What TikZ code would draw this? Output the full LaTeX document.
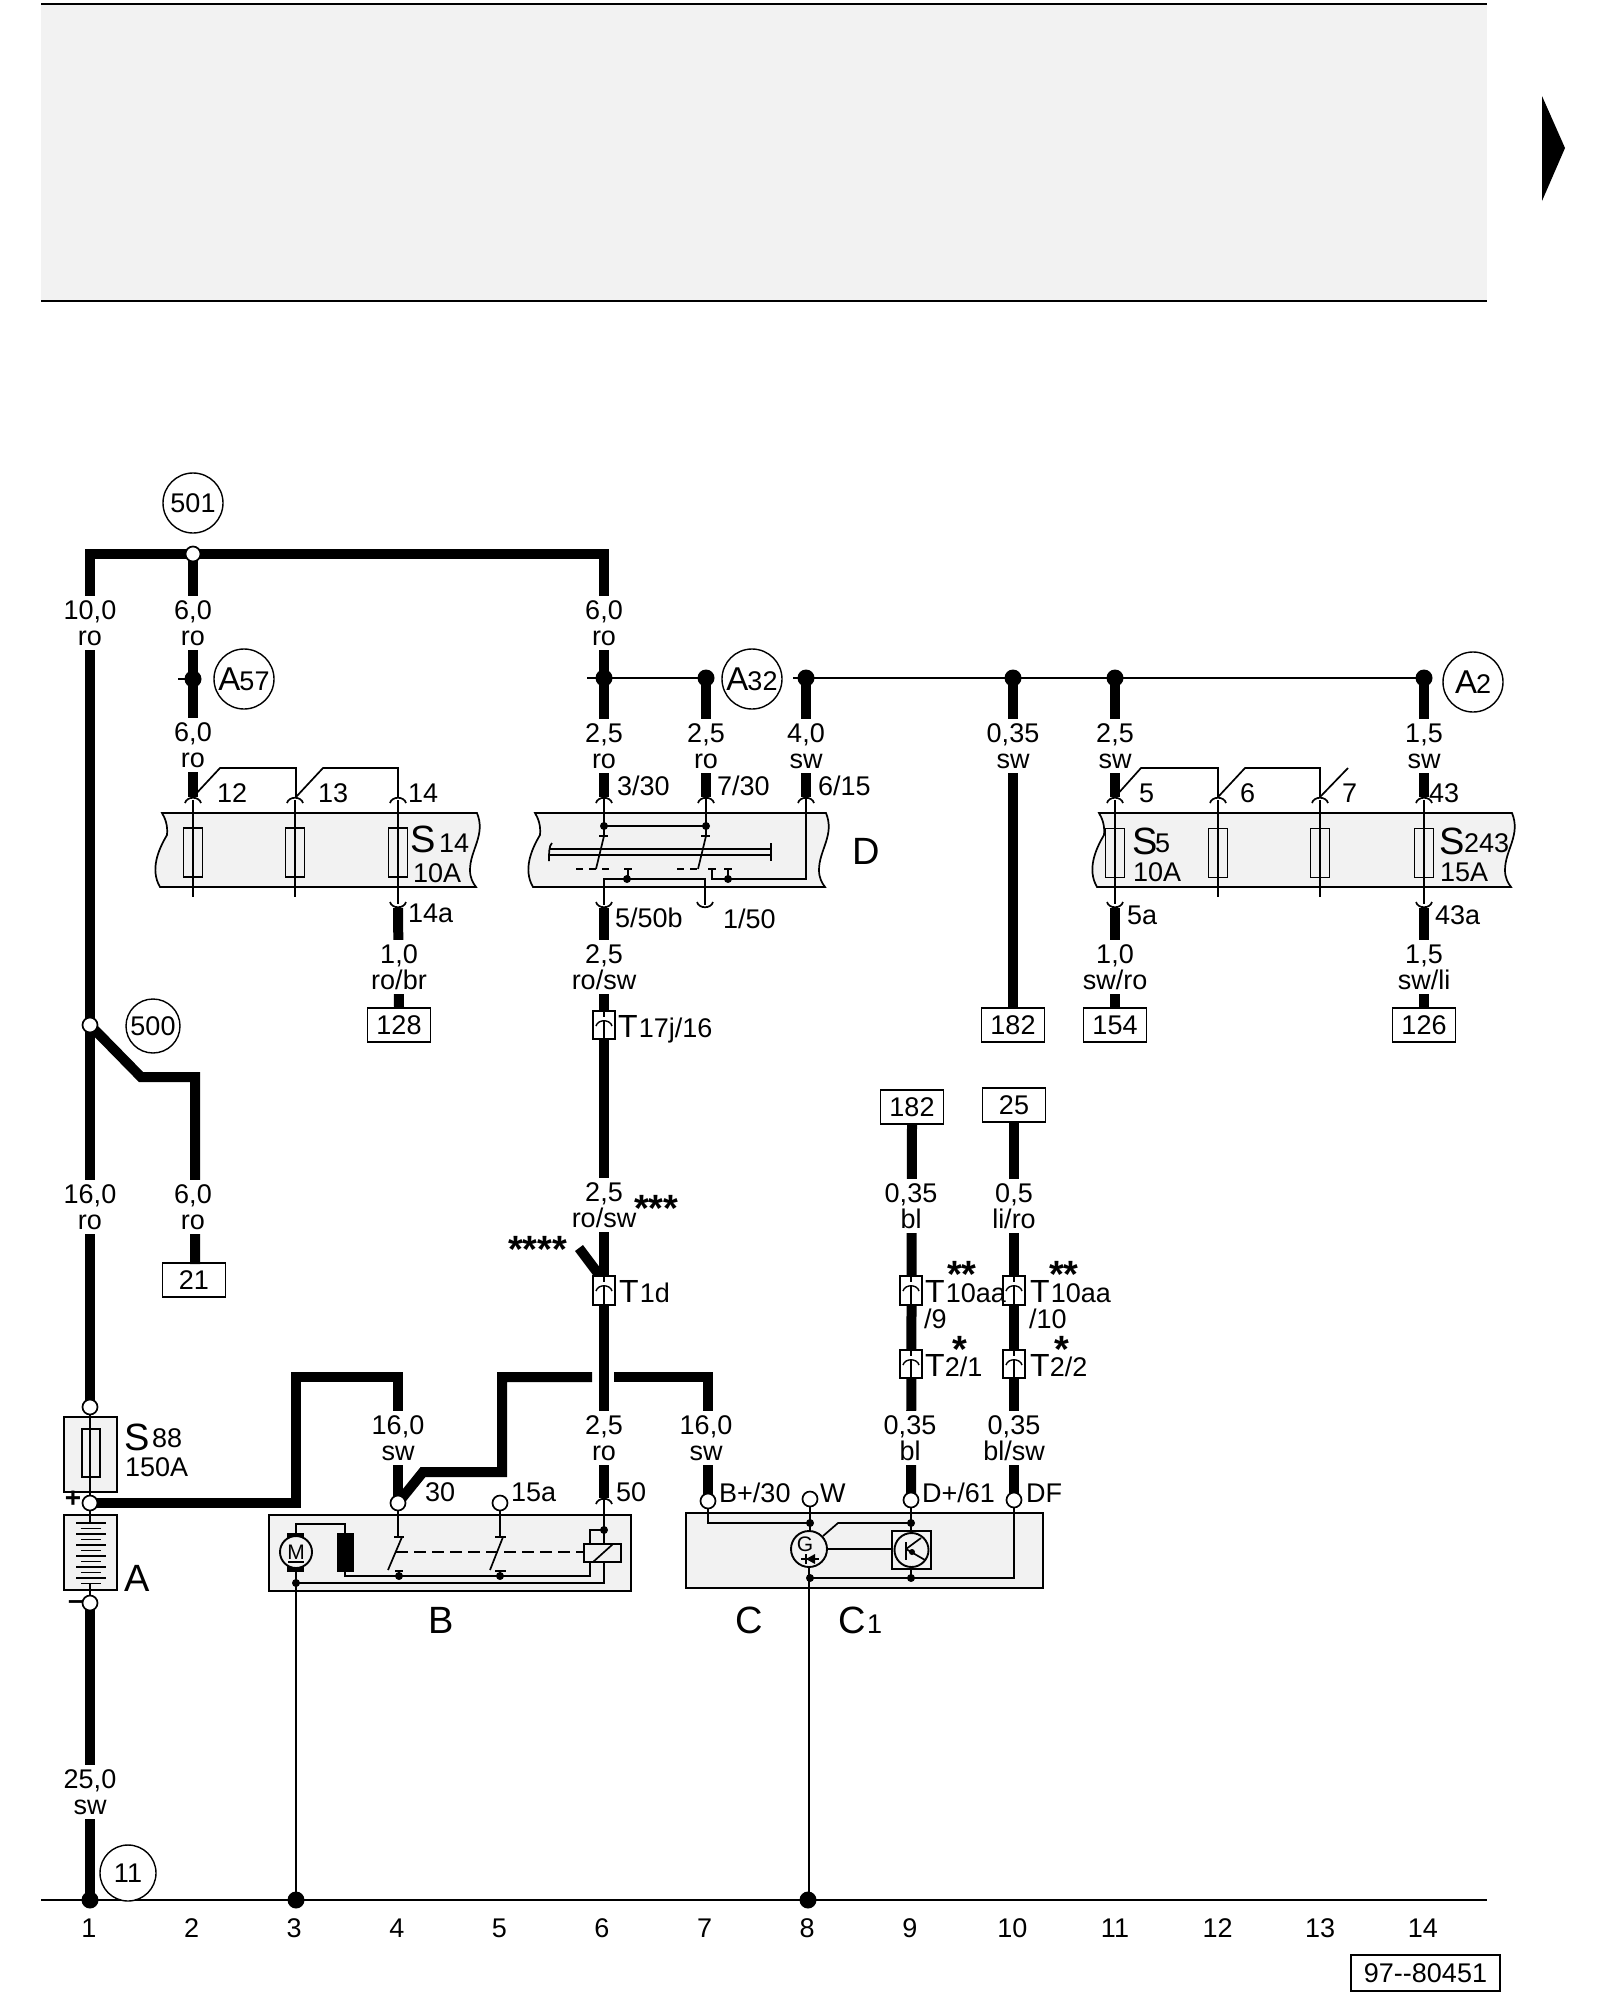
\documentclass[tikz,border=0pt]{standalone}
\usepackage{fontspec}
\setmainfont{Liberation Sans}
\usetikzlibrary{arrows.meta}
\definecolor{panel}{HTML}{F2F2F2}
\tikzset{
 wire/.style={line width=10pt,line join=miter,line cap=butt},
 fine/.style={line width=1.7pt},
 hair/.style={line width=1.4pt},
 stripbox/.style={draw,line width=1.7pt,fill=panel},
 term/.style={circle,draw,line width=1.7pt,fill=white,minimum size=15pt,inner sep=0},
 jdot/.style={circle,fill=black,minimum size=17pt,inner sep=0},
 sdot/.style={circle,fill=black,minimum size=8pt,inner sep=0},
 ref/.style={circle,draw,line width=1.4pt,fill=white,minimum size=60pt,inner sep=0,font=\fontsize{33}{33}\selectfont},
 wirelabel/.style={fill=white,inner sep=0,align=center,minimum height=54pt,font=\fontsize{27}{26.3}\selectfont},
 tag/.style={anchor=base west,inner sep=0,font=\fontsize{27}{27}\selectfont},
 big/.style={anchor=base west,inner sep=0,font=\fontsize{38}{38}\selectfont},
 star/.style={anchor=base west,inner sep=0,font=\bfseries\fontsize{38}{38}\selectfont},
 numbox/.style={draw,line width=1.7pt,fill=white,minimum width=63pt,minimum height=34pt,inner sep=0,font=\fontsize{27}{27}\selectfont},
 fuse/.style={draw,line width=1.7pt,fill=none,minimum width=19pt,minimum height=49pt,inner sep=0},
 contact/.style={draw,line width=1.7pt,fill=white,minimum width=22pt,inner sep=0},
}
\newcommand\wl[5]{\node[wirelabel] (#1) at (#2,#3) {#4\\#5};}
\newcommand\tl[4]{\node[tag] (#1) at (#2,{#3+9.6}) {#4};}
\newcommand\bg[4]{\node[big] (#1) at (#2,{#3+14}) {#4};}
\newcommand\st[4]{\node[star] (#1) at (#2,{#3+17}) {#4};}
\newcommand\capa[2]{\draw[fine] ({#1-8},{#2+6}) .. controls ({#1-6},{#2-1}) and ({#1+6},{#2-1}) .. ({#1+8},{#2+6});}
\newcommand\cupa[2]{\draw[fine] ({#1-8},{#2-6}) .. controls ({#1-6},{#2+1}) and ({#1+6},{#2+1}) .. ({#1+8},{#2-6});}
\newcommand\strip[2]{\draw[stripbox] (#1,813) -- (#2,813) .. controls ({#2+9},835) and ({#2-7},850) .. ({#2-7},870) .. controls ({#2-7},878) and ({#2-4},883) .. ({#2-1},887) -- ({#1-2},887) .. controls ({#1-12},870) and ({#1-4},850) .. ({#1+5},835) .. controls ({#1+6},825) and ({#1+3},818) .. (#1,813) -- cycle;}
\newcommand\conn[4]{\node[contact,minimum height={#4-#3}] (#1) at (#2,{(#3+#4)/2}) {};
 \draw[hair] (#2,#3) -- (#2,{#3+6}); \draw[hair] (#2,{#3+9}) -- (#2,#4);
 \draw[hair] ({#2-8},{#3+15}) .. controls ({#2-6},{#3+8}) and ({#2+6},{#3+8}) .. ({#2+8},{#3+15});}
\newcommand\plugtext[1]{\fontsize{32}{32}\selectfont T\kern1pt\fontsize{27}{27}\selectfont #1}
\begin{document}
\begin{tikzpicture}[x=1pt,y=-1pt]
\useasboundingbox (0,0) rectangle (1600,2000);
\fill[white] (0,0) rectangle (1600,2000);
% header
\fill[panel] (41,4) rectangle (1487,301);
\draw[fine] (41,4) -- (1487,4);
\draw[fine] (41,301) -- (1487,301);
\fill[black] (1542,96) -- (1565,148) -- (1542,201) -- cycle;
% ground line
\draw[line width=2pt] (41,1900) -- (1487,1900);
% panels
\strip{162}{477}
\strip{535}{826}
\strip{1099}{1512}
\draw[stripbox] (64,1417) rectangle (117,1492);
\draw[stripbox] (64,1515) rectangle (117,1590);
\draw[stripbox] (269,1515) rectangle (631,1591);
\draw[stripbox] (686,1513) rectangle (1043,1588);
% named points
\coordinate (b1) at (90,554); \coordinate (b2) at (193,554); \coordinate (b6) at (604,554);
\coordinate (a2) at (193,797); \coordinate (a6) at (604,797); \coordinate (a7) at (706,797); \coordinate (a8) at (806,797);
\coordinate (a11) at (1115,797); \coordinate (a14) at (1424,797);
\coordinate (u4) at (398,908); \coordinate (u6) at (604,908); \coordinate (u11) at (1115,908); \coordinate (u14) at (1424,908);
\coordinate (h3) at (296,1377); \coordinate (h4) at (398,1377); \coordinate (h5) at (502,1377);
\coordinate (h5r) at (592,1377); \coordinate (h6l) at (614,1377); \coordinate (h7) at (708,1377);
% boxes and terminals
\node[numbox] (n128) at (399,1025) {128};
\node[numbox] (n182a) at (1013,1025) {182};
\node[numbox] (n154) at (1115,1025) {154};
\node[numbox] (n126) at (1424,1025) {126};
\node[numbox] (n21) at (194,1280) {21};
\node[numbox] (n182b) at (912,1107) {182};
\node[numbox] (n25) at (1014,1105) {25};
\coordinate (t1) at (90,1407);
\coordinate (tp) at (90,1503);
\coordinate (tm) at (90,1603);
\coordinate (t30) at (398,1503);
\coordinate (t50) at (604,1498);
\coordinate (tb) at (708,1501);
\coordinate (td) at (911,1500);
\coordinate (tf) at (1014,1500);
\coordinate (j500) at (90,1025);
\coordinate (gnd1) at (90,1900);
% heavy wires
\draw[wire] (b1) -- (t1);
\draw[wire] (85,554) -- (b6) -- (604,590);
\draw[wire] (b2) -- (a2);
\draw[wire] (b6) -- (a6);
\draw[wire] (706,678) -- (a7);
\draw[wire] (806,678) -- (a8);
\draw[wire] (1013,678) -- (n182a.north);
\draw[wire] (a11) -- (1115,678);
\draw[wire] (a14) -- (1424,678);
\draw[wire] (u4) -- (n128.north);
\draw[wire] (u6) -- (604,1276);
\draw[wire] (u11) -- (n154.north);
\draw[wire] (u14) -- (n126.north);
\draw[wire] (j500) -- (141,1077) -- (195,1077) -- (195,1264);
\draw[wire] (tm) -- (gnd1);
\draw[wire] (tp) -- (296,1503) -- (h3) -- (h4) -- (t30);
\draw[wire] (t30) -- (423,1472) -- (502,1472) -- (h5) -- (h5r);
\draw[wire] (h6l) -- (h7) -- (tb);
\draw[wire] (604,1300) -- (t50);
\draw[wire] (579,1248) -- (603,1280);
\draw[wire] (n182b.south) -- (td);
\draw[wire] (n25.south) -- (tf);
% gauge/colour labels (breaking the wires)
\wl{l1}{90}{623}{10,0}{ro}
\wl{l2}{193}{623}{6,0}{ro}
\wl{l3}{604}{623}{6,0}{ro}
\wl{l4}{193}{745}{6,0}{ro}
\wl{l5}{604}{746}{2,5}{ro}
\wl{l6}{706}{746}{2,5}{ro}
\wl{l7}{806}{746}{4,0}{sw}
\wl{l8}{1013}{746}{0,35}{sw}
\wl{l9}{1115}{746}{2,5}{sw}
\wl{l10}{1424}{746}{1,5}{sw}
\wl{l11}{399}{967}{1,0}{ro/br}
\wl{l12}{604}{967}{2,5}{ro/sw}
\wl{l13}{1115}{967}{1,0}{sw/ro}
\wl{l14}{1424}{967}{1,5}{sw/li}
\wl{l15}{90}{1207}{16,0}{ro}
\wl{l16}{193}{1207}{6,0}{ro}
\wl{l17}{604}{1205}{2,5}{ro/sw}
\wl{l18}{911}{1206}{0,35}{bl}
\wl{l19}{1014}{1206}{0,5}{li/ro}
\wl{l20}{398}{1438}{16,0}{sw}
\wl{l21}{604}{1438}{2,5}{ro}
\wl{l22}{706}{1438}{16,0}{sw}
\wl{l23}{910}{1438}{0,35}{bl}
\wl{l24}{1014}{1438}{0,35}{bl/sw}
\wl{l25}{90}{1792}{25,0}{sw}
% bus A32 etc.
\draw[fine] (587,678) -- (706,678);
\draw[fine] (793,678) -- (1424,678);
\draw[fine] (178,679) -- (193,679);
\foreach \x/\n in {604/d6,706/d7,806/d8,1013/d10,1115/d11,1424/d14} \node[jdot] (\n) at (\x,678) {};
\node[jdot] (d2) at (193,679) {};
\node[ref] (rA32) at (752,679) {A\kern-1pt{\fontsize{27}{27}\selectfont 32}};
\node[ref] (rA57) at (244,679) {A\kern-1pt{\fontsize{27}{27}\selectfont 57}};
\node[ref] (rA2) at (1473,682) {A\kern-1pt{\fontsize{27}{27}\selectfont 2}};
\node[ref,font=\fontsize{27}{27}\selectfont] (r501) at (193,503) {501};
\node[ref,minimum size=54pt,font=\fontsize{27}{27}\selectfont] (r500) at (153,1026) {500};
\node[ref,minimum size=56pt,font=\fontsize{27}{27}\selectfont] (r11) at (128,1873) {11};
\node[term] (tj501) at (193,554) {};
\node[term] (tj500) at (j500) {};
% left fuses
\foreach \x/\n in {193/f1,295/f2,398/f3}{
 \draw[fine] (\x,800) -- (\x,897);
 \node[fuse] (\n) at (\x,852.5) {};
 \capa{\x}{797}
}
\draw[fine] (398,897) -- (398,904);
\cupa{398}{908}
\draw[fine] (193,797) -- (220,768) -- (296,768) -- (296,797);
\draw[fine] (296,797) -- (323,768) -- (398,768) -- (398,797);
\tl{p12}{217}{793}{12} \tl{p13}{318}{793}{13} \tl{p14}{408}{793}{14}
\tl{p14a}{408}{913}{14a}
\bg{s14}{410}{838}{S} \tl{s14n}{439}{843}{14} \tl{s14a}{413}{873}{10A}
% switch D
\foreach \x in {604,706,806}{\capa{\x}{797}}
\draw[fine] (604,797) -- (604,836) -- (596,869);
\draw[fine] (706,797) -- (706,836) -- (698,869);
\draw[fine] (806,797) -- (806,879) -- (712,879) -- (712,869);
\draw[fine] (604,826) -- (706,826);
\node[sdot] (sd1) at (604,826) {}; \node[sdot] (sd2) at (706,826) {};
\draw[hair] (599,836) -- (608,836); \draw[hair] (701,836) -- (710,836);
\draw[fine] (549,849) -- (771,849); \draw[fine] (549,855) -- (771,855);
\draw[fine] (771,843) -- (771,861);
\draw[fine] (552,843) .. controls (549,846) and (549,852) .. (549,861);
\draw[fine,dash pattern=on 7pt off 6pt] (576,869) -- (614,869);
\draw[fine,dash pattern=on 7pt off 6pt] (677,869) -- (702,869);
\draw[fine] (624,869) -- (632,869); \draw[fine] (628,869) -- (628,879);
\draw[fine] (708,869) -- (716,869);
\draw[fine] (724,869) -- (732,869); \draw[fine] (728,869) -- (728,879);
\draw[fine] (604,905) -- (604,879) -- (705,879) -- (705,905);
\node[sdot] (sd3) at (627,879) {}; \node[sdot] (sd4) at (728,879) {};
\cupa{604}{908} \cupa{705}{908}
\tl{d1}{617}{786}{3/30} \tl{d2t}{717}{786}{7/30} \tl{d3}{818}{786}{6/15}
\tl{d4}{615}{918}{5/50b} \tl{d5}{723}{919}{1/50}
\node[big,anchor=center] (lD) at (866,851) {D};
% right fuses
\foreach \x/\n in {1115/g1,1218/g2,1320/g3,1424/g4}{
 \draw[fine] (\x,800) -- (\x,897);
 \node[fuse] (\n) at (\x,853) {};
 \capa{\x}{797}
}
\draw[fine] (1115,897) -- (1115,904); \draw[fine] (1424,897) -- (1424,904);
\cupa{1115}{908} \cupa{1424}{908}
\draw[fine] (1115,797) -- (1141,768) -- (1218,768) -- (1218,797);
\draw[fine] (1218,797) -- (1245,768) -- (1320,768) -- (1320,797);
\draw[fine] (1320,797) -- (1348,768);
\tl{q5}{1139}{793}{5} \tl{q6}{1240}{793}{6} \tl{q7}{1342}{793}{7} \tl{q43}{1429}{793}{43}
\tl{q5a}{1127}{915}{5a} \tl{q43a}{1435}{915}{43a}
\bg{s5}{1132}{840}{S} \tl{s5n}{1155}{843}{5} \tl{s5a}{1133}{872}{10A}
\bg{s243}{1439}{840}{S} \tl{s243n}{1464}{843}{243} \tl{s243a}{1440}{872}{15A}
% connectors on wires
\conn{T17}{604}{1011}{1039}
\tl{t17}{618}{1028}{\plugtext{17j/16}}
\st{ast3}{634}{1204}{***}
\st{ast4}{508}{1245}{****}
\conn{T1d}{604}{1276}{1305}
\tl{t1d}{619}{1293}{\plugtext{1d}}
\conn{Ta}{911}{1276}{1305}
\conn{Tb}{1014}{1276}{1305}
\conn{Tc}{911}{1350}{1378}
\conn{Td}{1014}{1350}{1378}
\tl{ta}{925}{1293}{\plugtext{10aa}}
\tl{tb9}{924}{1319}{/9}
\tl{tc}{1030}{1293}{\plugtext{10aa}}
\tl{tb10}{1029}{1319}{/10}
\tl{te}{925}{1367}{\fontsize{32}{32}\selectfont T\fontsize{27}{27}\selectfont 2/1}
\tl{tg}{1030}{1367}{\fontsize{32}{32}\selectfont T\fontsize{27}{27}\selectfont 2/2}
\st{as1}{947}{1270}{**} \st{as2}{1049}{1270}{**}
\st{as3}{952}{1345}{*} \st{as4}{1054}{1345}{*}
% S88 and battery
\draw[fine] (90,1407) -- (90,1523);
\draw[fine] (90,1583.5) -- (90,1603);
\node[fuse,minimum width=18pt,minimum height=48pt] (f88) at (91,1453) {};
\foreach \i [count=\c from 0] in {1,...,12}{
 \pgfmathsetmacro\yy{1523+\c*5.5}
 \ifodd\i \draw[fine] (76,\yy) -- (106,\yy); \else \draw[fine] (81,\yy) -- (101,\yy); \fi
}
\node[term] (Tt1) at (t1) {};
\node[term] (Tp) at (tp) {};
\node[term] (Tm) at (tm) {};
\bg{s88}{124}{1436}{S} \tl{s88n}{152}{1438}{88} \tl{s88a}{125}{1467}{150A}
\node[big,anchor=center] (lA) at (137,1578) {A};
\node[inner sep=0,font=\bfseries\fontsize{28}{28}\selectfont] (lplus) at (73,1499) {+};
\node[inner sep=0,font=\bfseries\fontsize{28}{28}\selectfont] (lminus) at (76,1605) {--};
% starter B
\draw[fine] (398,1510) -- (398,1537) -- (402,1537) -- (388,1570);
\draw[fine] (500,1510) -- (500,1537) -- (503,1537) -- (490,1570);
\draw[hair] (394,1537) -- (404,1537); \draw[hair] (495,1537) -- (506,1537);
\node[term] (T30) at (t30) {};
\node[term] (T15) at (500,1503) {};
\capa{604}{1498}
\draw[fine] (604,1498) -- (604,1544);
\draw[fine,dash pattern=on 12pt off 6pt] (396,1552) -- (584,1552);
\draw[fine] (395,1571) -- (403,1571); \draw[fine] (495,1571) -- (506,1571);
\draw[fine] (399,1571) -- (399,1576); \draw[fine] (500,1571) -- (500,1576);
\draw[fine] (345,1572) -- (345,1576) -- (590,1576) -- (590,1530) -- (604,1530);
\node[sdot] (sa) at (399,1576) {}; \node[sdot] (sb) at (500,1576) {}; \node[sdot] (sc) at (604,1530) {};
\draw[fine,fill=panel] (584,1544) rectangle (621,1562);
\draw[fine] (593,1562) -- (613,1544);
\draw[fine] (604,1562) -- (604,1583) -- (296,1583);
\draw[fine] (296,1533) -- (296,1524) -- (345,1524) -- (345,1533);
\fill[black] (337,1533) rectangle (354,1572);
\fill[black] (287,1533) rectangle (304,1540);
\fill[black] (287,1565) rectangle (304,1572);
\node[circle,draw,line width=1.9pt,fill=panel,minimum size=32pt,inner sep=0,font=\fontsize{21}{21}\selectfont] (mot) at (296,1552) {M};
\draw[line width=1.2pt] (288,1562) -- (304,1562);
\draw[fine] (mot.south) -- (296,1900);
\node[sdot] (sm) at (296,1583) {};
\tl{p30}{425}{1492}{30} \tl{p15}{511}{1492}{15a} \tl{p50}{616}{1492}{50}
\node[big,anchor=center] (lB) at (441,1620) {B};
% alternator C
\draw[fine] (708,1508) -- (708,1523) -- (810,1523);
\draw[fine] (810,1507) -- (810,1531);
\draw[fine] (911,1507) -- (911,1531);
\draw[fine] (911,1523) -- (838,1523) -- (823,1536);
\draw[fine] (1014,1507) -- (1014,1578) -- (810,1578);
\node[sdot] (sc1) at (810,1523) {}; \node[sdot] (sc2) at (911,1523) {}; \node[sdot] (sc3) at (810,1578) {}; \node[sdot] (sc4) at (911,1578) {};
\draw[fine] (911,1569) -- (911,1578);
\node[circle,draw,line width=1.9pt,fill=panel,minimum size=36pt,inner sep=0] (gen) at (809,1549) {};
\node[inner sep=0,font=\fontsize{21}{21}\selectfont] (gG) at (805,1544) {G};
\draw[line width=1.2pt] (801,1559) -- (819,1559);
\fill[black] (806,1559) -- (815,1554) -- (815,1564) -- cycle;
\draw[fine] (806,1554) -- (806,1564);
\draw[line width=1.9pt,fill=panel] (892,1531) rectangle (931,1569);
\node[circle,draw,line width=1.9pt,minimum size=34pt,inner sep=0] (kk) at (911.5,1550) {};
\draw[fine] (gen.east) -- (892,1549);
\draw[fine] (906,1542) -- (906,1560);
\draw[fine] (906,1549) -- (921,1538);
\draw[fine] (906,1549) -- (925,1560);
\node[sdot,minimum size=6pt] (kd) at (912,1552) {};
\draw[fine] (gen.south) -- (809,1900);
\node[term] (Tb) at (tb) {};
\node[term] (Tw) at (810,1499) {};
\node[term] (Td) at (td) {};
\node[term] (Tf) at (tf) {};
\tl{c1}{719}{1493}{B+/30} \tl{c2}{820}{1493}{W} \tl{c3}{922}{1493}{D+/61} \tl{c4}{1026}{1493}{DF}
\node[big,anchor=center] (lC) at (749,1620) {C};
\node[big,anchor=center] (lC1) at (852,1620) {C};
\tl{lC1n}{867}{1624}{1}
% ground dots and column numbers
\node[jdot] (g1) at (90,1900) {}; \node[jdot] (g3) at (296,1900) {}; \node[jdot] (g8) at (808,1900) {};
\foreach \n in {1,...,14}{
 \pgfmathsetmacro\xx{89+(\n-1)*102.6}
 \node[inner sep=0,font=\fontsize{27}{27}\selectfont] (num\n) at (\xx,1928) {\n};
}
\node[draw,line width=1.7pt,fill=white,minimum width=149pt,minimum height=36pt,inner sep=0,font=\fontsize{27}{27}\selectfont] (code) at (1425.5,1973) {97{-}{-}80451};
\end{tikzpicture}
\end{document}
